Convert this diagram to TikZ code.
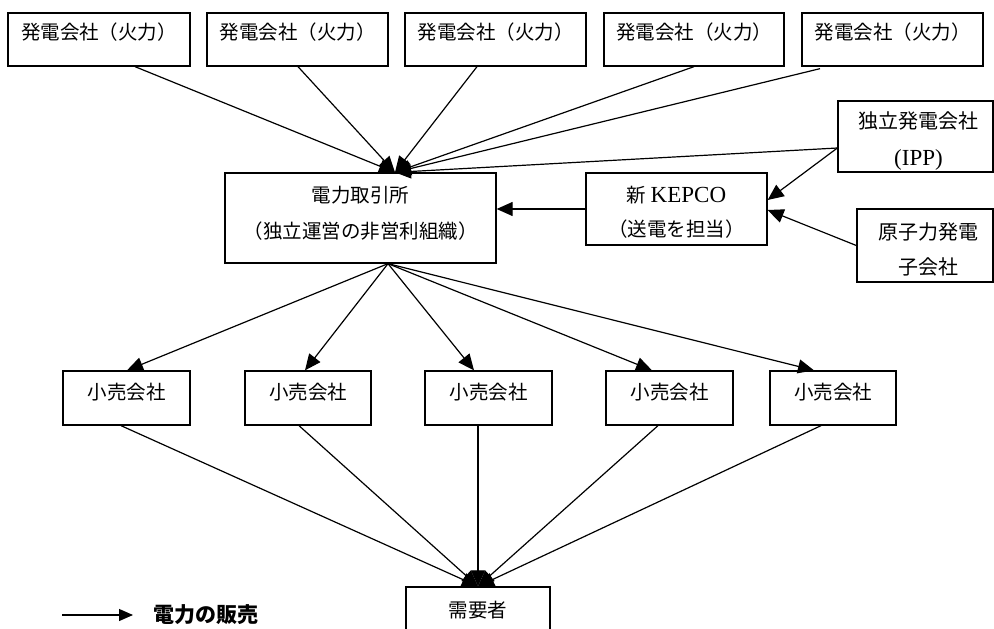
\documentclass[tikz,border=0pt]{standalone}
\usepackage{fontspec}
\setmainfont{Liberation Serif}
\newfontfamily\cjk{Noto Sans CJK JP}
\usetikzlibrary{arrows.meta,calc}
\begin{document}
\begin{tikzpicture}[x=1pt,y=-1pt,
  box/.style={draw,line width=1.3pt,inner sep=0pt},
  txt/.style={font=\cjk\fontsize{19.5}{36}\selectfont,align=center,inner sep=0pt},
  arr/.style={line width=1.2pt,-{Triangle[length=16pt,width=14pt]}},
  gen/.style={box,minimum width=181pt,minimum height=53pt,
    label={[txt,yshift=7.5pt]center:発電会社（火力）}},
  ret/.style={box,minimum width=127pt,minimum height=54pt,
    label={[txt,yshift=6pt]center:小売会社}},
]
\useasboundingbox (0,0) rectangle (994,629);
\clip (0,0) rectangle (994,629);

% generators
\node[gen,minimum width=182pt] (g1) at (99,39.5) {};
\node[gen] (g2) at (297.5,39.5) {};
\node[gen] (g3) at (495.5,39.5) {};
\node[gen,minimum width=180pt] (g4) at (694,39.5) {};
\node[gen] (g5) at (892.5,39.5) {};

% exchange
\node[box,minimum width=271pt,minimum height=90pt,
  label={[txt,yshift=4.5pt]center:{電力取引所\\（独立運営の非営利組織）}}] (ex) at (360.5,218) {};
% new KEPCO
\node[box,minimum width=181pt,minimum height=72pt,
  label={[txt,yshift=-3pt,font=\cjk\fontsize{19.5}{34}\selectfont]center:{新 {\rmfamily\fontsize{23}{34}\selectfont KEPCO}\\（送電を担当）}}] (kep) at (676.5,209) {};
% IPP
\node[box,minimum width=155pt,minimum height=71pt,
  label={[txt,yshift=-5pt,xshift=3pt,font=\cjk\fontsize{20}{37}\selectfont]center:{独立発電会社\\{\rmfamily\fontsize{23}{37}\selectfont (IPP)}}}] (ipp) at (915.5,136.5) {};
% nuclear
\node[box,minimum width=136pt,minimum height=73pt,
  label={[txt,yshift=-4pt,xshift=3pt,font=\cjk\fontsize{20}{35}\selectfont]center:{原子力発電\\子会社}}] (nuc) at (925,245.5) {};

% retailers
\node[ret] (r1) at (126.5,398) {};
\node[ret,minimum width=126pt] (r2) at (308,398) {};
\node[ret] (r3) at (488.5,398) {};
\node[ret] (r4) at (669.5,398) {};
\node[ret,minimum width=126pt] (r5) at (833,398) {};

% consumers
\node[box,minimum width=144pt,minimum height=80pt,
  label={[txt,yshift=17pt]center:需要者}] (dem) at (478,627) {};

% generators -> exchange
\coordinate (T) at ([xshift=34.5pt]ex.north);
\draw[arr] ([xshift=36pt]g1.south) -- (T);
\draw[arr] ([xshift=0.5pt]g2.south) -- (T);
\draw[arr] ([xshift=-18.5pt]g3.south) -- (T);
\draw[arr] (g4.south) -- (T);
\draw[arr] ([xshift=-72.5pt,yshift=-2pt]g5.south) -- (T);
\draw[arr] ([yshift=-11.5pt]ipp.west) -- (T);

% into KEPCO
\draw[arr] ([yshift=-11.5pt]ipp.west) -- ([yshift=9pt]kep.east);
\draw[arr] (nuc.west) -- ([yshift=-1pt]kep.east);
\draw[arr] (kep.west) -- ([yshift=9pt]ex.east);

% exchange -> retailers
\coordinate (B) at ([xshift=27.5pt]ex.south);
\draw[arr] (B) -- ([xshift=0.5pt]r1.north);
\draw[arr] (B) -- ([xshift=-3pt]r2.north);
\draw[arr] (B) -- ([xshift=-14.5pt]r3.north);
\draw[arr] (B) -- ([xshift=-17.5pt]r4.north);
\draw[arr] (B) -- ([xshift=-19pt]r5.north);

% retailers -> consumers
\draw[arr] ([xshift=-5.5pt]r1.south) -- (dem.north);
\draw[arr] ([xshift=-9pt]r2.south) -- (dem.north);
\draw[arr] ([xshift=-10.5pt]r3.south) -- (dem.north);
\draw[arr] ([xshift=-11.5pt]r4.south) -- (dem.north);
\draw[arr] ([xshift=-12pt]r5.south) -- (dem.north);

% legend
\coordinate (la) at (62,615);
\coordinate (lb) at (133,615);
\draw[arr,-{Triangle[length=14pt,width=12pt]}] (la) -- (lb);
\node[anchor=west,inner sep=0pt,font=\cjk\bfseries\fontsize{21}{21}\selectfont] (leg) at (153,615) {電力の販売};
\end{tikzpicture}
\end{document}
